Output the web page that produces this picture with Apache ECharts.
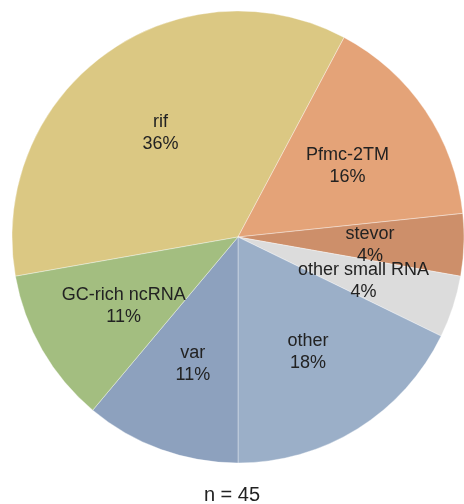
<!DOCTYPE html>
<html><head><meta charset="utf-8">
<script src="https://cdn.jsdelivr.net/npm/echarts@6/dist/echarts.min.js"></script>
<style>html,body{margin:0;padding:0;background:#fff}#c{width:464px;height:504px}</style>
</head><body><div id="c"></div>
<script>
const categories = ['rif','Pfmc-2TM','stevor','other small RNA','other','var','GC-rich ncRNA'];
const counts = [16,7,2,2,8,5,5];
const colors = ['#dbc883','#e4a378','#cd8f6a','#dcdcdc','#9bafc8','#8da1be','#a3be80'];
const total = counts.reduce((a,b)=>a+b,0);
const data = categories.map((c,i)=>({name:c,value:counts[i],itemStyle:{color:colors[i]}}));
const font = '"Liberation Sans", Arial, sans-serif';
const chart = echarts.init(document.getElementById('c'),null,{renderer:'canvas'});
chart.setOption({
  animation:false,
  title:{text:'n = ' + total, left:'center', top:480,
    textStyle:{fontFamily:font,fontSize:20,fontWeight:'normal',color:'#222'}},
  series:[
    {type:'pie', center:[238,237], radius:[0,226], startAngle:190, clockwise:true,
     data:data, label:{show:false}, labelLine:{show:false}, silent:true,
     itemStyle:{borderWidth:0.6, borderColor:'rgba(255,255,255,0.6)'}},
    {type:'pie', center:[238,237], radius:[0,258], startAngle:190, clockwise:true, silent:true,
     avoidLabelOverlap:false,
     labelLayout:{hideOverlap:false},
     data:data.map(d=>({name:d.name,value:d.value,itemStyle:{color:'rgba(0,0,0,0)'}})),
     label:{show:true, position:'inside', fontFamily:font, fontSize:18, color:'#222', lineHeight:22,
       offset:[0,3],
       formatter:p=>p.name+'\n'+Math.round(p.value/total*100)+'%'},
     labelLine:{show:false}}
  ]
});
</script></body></html>
